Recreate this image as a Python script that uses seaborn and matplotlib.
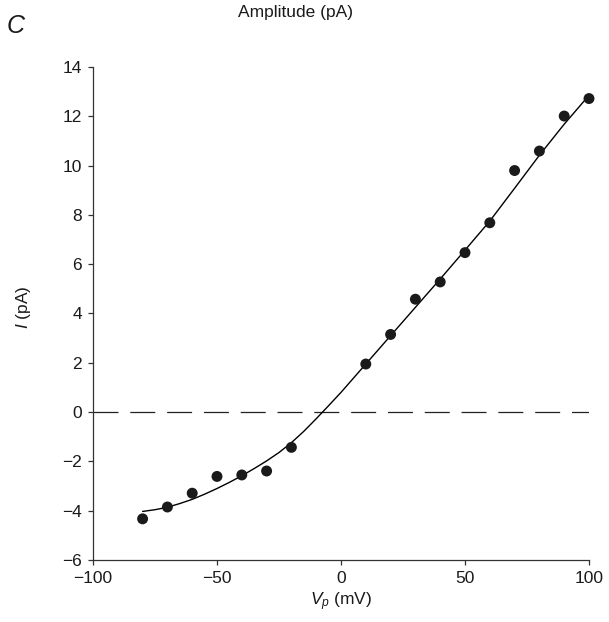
import matplotlib
matplotlib.use("Agg")
import matplotlib.pyplot as plt
import seaborn as sns
import pandas as pd

# Measured points
vp_points = [-80, -70, -60, -50, -40, -30, -20, 10, 20, 30, 40, 50, 60, 70, 80, 90, 100]
i_points = [-4.33, -3.85, -3.29, -2.61, -2.55, -2.39, -1.43, 1.95, 3.15, 4.58, 5.28,
            6.47, 7.68, 9.80, 10.59, 12.01, 12.72]

# Fitted curve
vp_fit = [-80, -75, -70, -65, -60, -55, -50, -45, -40, -35, -30, -25, -20, -15, -10,
          -5, 0, 10, 20, 30, 40, 50, 60, 70, 80, 90, 100]
i_fit = [-4.03, -3.96, -3.86, -3.71, -3.54, -3.33, -3.10, -2.85, -2.58, -2.29, -1.98,
         -1.64, -1.24, -0.78, -0.27, 0.26, 0.80, 1.95, 3.10, 4.25, 5.40, 6.57,
         7.75, 9.08, 10.42, 11.68, 12.85]

x_ticks = [-100, -50, 0, 50, 100]
y_ticks = [-6, -4, -2, 0, 2, 4, 6, 8, 10, 12, 14]

sns.set_theme(style="ticks")
plt.rcParams["font.family"] = ["Liberation Sans", "DejaVu Sans"]
plt.rcParams["mathtext.fontset"] = "custom"
plt.rcParams["mathtext.rm"] = "Liberation Sans"
plt.rcParams["mathtext.it"] = "Liberation Sans:italic"
plt.rcParams["lines.scale_dashes"] = False

pts = pd.DataFrame({"Vp": vp_points, "I": i_points})
fit = pd.DataFrame({"Vp": vp_fit, "I": i_fit})

fig = plt.figure(figsize=(6.09, 6.22), dpi=100)
ax = fig.add_axes([93 / 609, 1 - 560 / 622, 496 / 609, 493 / 622])

ax.axhline(0, color="#222222", lw=0.9, dashes=(18, 8.5), zorder=1)
sns.lineplot(data=fit, x="Vp", y="I", ax=ax, color="black", lw=1.0,
             sort=False, estimator=None, zorder=2)
sns.scatterplot(data=pts, x="Vp", y="I", ax=ax, color="#1a1a1a", s=62,
                edgecolor="none", zorder=3, clip_on=False)

ax.set_xlim(-100, 100)
ax.set_ylim(-6, 14)
ax.set_xticks(x_ticks)
ax.set_yticks(y_ticks)
ax.set_xticklabels([f"{t}".replace("-", "\u2212") for t in x_ticks])
ax.set_yticklabels([f"{t}".replace("-", "\u2212") for t in y_ticks])

for s in ["top", "right"]:
    ax.spines[s].set_visible(False)
for s in ["left", "bottom"]:
    ax.spines[s].set_linewidth(0.9)
    ax.spines[s].set_color("#333333")
ax.tick_params(axis="both", direction="out", length=3.5, width=0.9,
               color="#333333", labelsize=12.5, pad=4.5, labelcolor="#1a1a1a")

ax.set_xlabel(r"$\mathit{V}_{\mathit{p}}$ (mV)", fontsize=12.5, color="#1a1a1a", labelpad=3)
ax.set_ylabel(r"$\mathit{I}$ (pA)", fontsize=12.5, color="#1a1a1a")
ax.yaxis.set_label_coords(-0.121, 0.513)

fig.text(295 / 609, 1 - 17 / 622, "Amplitude (pA)", ha="center", va="baseline",
         fontsize=12.5, color="#1a1a1a")
fig.text(7 / 609, 1 - 33 / 622, "C", ha="left", va="baseline", fontsize=18,
         style="italic", color="#1a1a1a")

fig.savefig("out.png", dpi=100, facecolor="white")
